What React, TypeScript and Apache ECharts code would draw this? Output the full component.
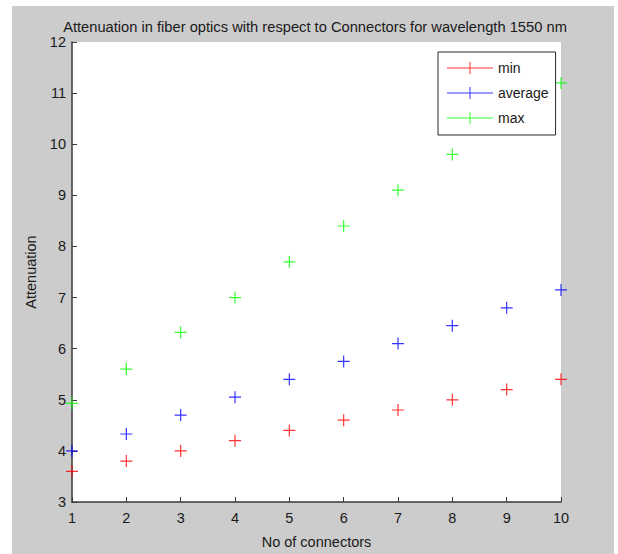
import React, { useEffect, useRef } from "react";
import * as echarts from "echarts";

const connectors = [1, 2, 3, 4, 5, 6, 7, 8, 9, 10];
const minValues = [3.6, 3.8, 4.0, 4.2, 4.4, 4.6, 4.8, 5.0, 5.2, 5.4];
const averageValues = [4.0, 4.33, 4.7, 5.05, 5.4, 5.75, 6.1, 6.45, 6.8, 7.15];
const maxValues = [4.93, 5.6, 6.32, 7.0, 7.7, 8.4, 9.1, 9.8, 10.5, 11.2];
const seriesNames = ["min", "average", "max"];
const seriesColors = ["#ff0000", "#0000ff", "#00ff00"];
const titleText = "Attenuation in fiber optics with respect to Connectors for wavelength 1550 nm";
const xAxisName = "No of connectors";
const yAxisName = "Attenuation";

const FONT = "'Liberation Sans', Arial, sans-serif";
const plusSymbol = "path://M0,5.4H12V6.6H0Z M5.4,0H6.6V12H5.4Z";
const legendIcon = "path://M0,5.5H46V6.5H0Z M22.5,0H23.5V12H22.5Z";

export default function App() {
  const ref = useRef<HTMLDivElement>(null);
  useEffect(() => {
    document.body.style.margin = "0";
    const chart = echarts.init(ref.current!, null, { renderer: "svg" });
    const allValues = [minValues, averageValues, maxValues];
    chart.setOption({
      animation: false,
      backgroundColor: "#ffffff",
      graphic: [
        {
          type: "rect",
          z: -10,
          silent: true,
          shape: { x: 12, y: 6, width: 602, height: 548 },
          style: { fill: "#cccccc" },
        },
      ],
      title: {
        text: titleText,
        left: 310,
        textAlign: "center",
        top: 14,
        textStyle: { fontFamily: FONT, fontSize: 14.7, fontWeight: "normal", color: "#1a1a1a" },
      },
      legend: {
        left: 438,
        top: 52,
        orient: "vertical",
        data: seriesNames.map((n) => ({ name: n, icon: legendIcon })),
        itemWidth: 46,
        itemHeight: 12,
        itemGap: 11,
        padding: [9, 7, 10, 9],
        backgroundColor: "#ffffff",
        borderColor: "#262626",
        borderWidth: 1,
        z: 10,
        textStyle: { fontFamily: FONT, fontSize: 14, color: "#1a1a1a" },
      },
      grid: {
        left: 72,
        top: 42,
        width: 489,
        height: 462,
        show: true,
        backgroundColor: "#ffffff",
        borderWidth: 0,
      },
      xAxis: {
        type: "value",
        min: 1,
        max: 10,
        interval: 1,
        name: xAxisName,
        nameLocation: "middle",
        nameGap: 32,
        nameTextStyle: { fontFamily: FONT, fontSize: 14.5, color: "#1a1a1a" },
        axisLine: { lineStyle: { color: "#3a3a3a", width: 1.5 } },
        axisTick: { inside: true, length: 5, lineStyle: { color: "#3a3a3a" } },
        axisLabel: { fontFamily: FONT, fontSize: 14.5, color: "#1a1a1a", margin: 8 },
        splitLine: { show: false },
      },
      yAxis: {
        type: "value",
        min: 3,
        max: 12,
        interval: 1,
        name: yAxisName,
        nameLocation: "middle",
        nameRotate: 90,
        nameGap: 33,
        nameTextStyle: { fontFamily: FONT, fontSize: 14.5, color: "#1a1a1a" },
        axisLine: { show: true, lineStyle: { color: "#3a3a3a", width: 1.5 } },
        axisTick: { show: true, inside: true, length: 5, lineStyle: { color: "#3a3a3a" } },
        axisLabel: { fontFamily: FONT, fontSize: 14.5, color: "#1a1a1a", margin: 6 },
        splitLine: { show: false },
      },
      series: seriesNames.map((name, i) => ({
        name,
        type: "scatter",
        symbol: plusSymbol,
        symbolSize: 12,
        clip: false,
        itemStyle: { color: seriesColors[i] },
        data: connectors.map((c, j) => [c, allValues[i][j]]),
      })),
    });
    return () => chart.dispose();
  }, []);
  return <div ref={ref} style={{ width: 618, height: 554 }} />;
}
